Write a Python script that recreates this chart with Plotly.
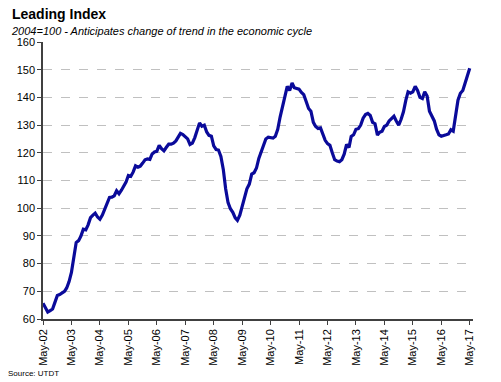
import pandas as pd
import plotly.graph_objects as go

start_month = "2002-05-01"
values = [
    65.7, 64.0, 62.5, 63.0, 63.6, 66.0, 68.5, 68.8, 69.3, 70.0, 71.2, 73.5,
    76.8, 82.0, 87.6, 88.3, 90.0, 92.4, 92.2, 94.0, 96.6, 97.5, 98.2, 96.8,
    96.0, 97.5, 99.5, 101.5, 103.9, 104.0, 104.5, 106.3, 105.2, 106.5, 107.8, 109.4,
    111.8, 111.5, 113.0, 115.3, 114.8, 115.2, 116.3, 117.5, 117.8, 117.6, 119.5, 120.3,
    120.5, 122.7, 121.5, 120.7, 122.0, 123.1, 123.1, 123.5, 124.3, 125.5, 127.0, 126.6,
    125.8, 125.0, 123.0, 123.5, 125.5, 128.0, 130.8, 129.6, 130.0, 127.5, 126.3, 126.0,
    122.5, 121.2, 121.0, 118.7, 114.0, 107.0, 102.0, 99.8, 98.5, 96.5, 95.6, 97.5,
    101.0, 103.5, 107.0, 108.7, 112.3, 112.8, 114.5, 118.0, 120.5, 122.5, 125.0, 125.6,
    125.5, 125.3, 126.0, 128.5, 133.0, 137.0, 141.0, 144.0, 142.5, 145.2, 143.5, 143.3,
    143.0, 141.8, 141.0, 138.5, 136.0, 135.0, 131.0, 129.5, 128.8, 129.0, 127.0, 124.5,
    123.3, 122.7, 120.0, 117.5, 117.0, 116.8, 117.5, 119.5, 123.0, 121.9, 125.9, 126.5,
    128.5, 128.7, 130.0, 132.5, 133.8, 134.2, 133.5, 131.0, 130.5, 126.4, 127.4, 127.8,
    129.5, 130.0, 131.5, 132.3, 133.2, 131.5, 130.0, 132.0, 134.8, 139.0, 142.0, 141.5,
    142.0, 144.0, 142.5, 140.0, 139.6, 142.0, 140.5, 135.0, 133.0, 131.5, 128.5, 126.5,
    126.0, 126.4, 126.5, 126.8, 128.3, 127.8, 133.5, 139.0, 141.5, 142.5, 145.0, 147.5,
    150.5,
]
dates = pd.date_range(start_month, periods=len(values), freq="MS")
tick_dates = pd.date_range("2002-05-01", "2017-05-01", freq="12MS")
tick_labels = [d.strftime("%b-%y") for d in tick_dates]
y_ticks = [60, 70, 80, 90, 100, 110, 120, 130, 140, 150, 160]

title = "Leading Index"
subtitle = "2004=100 - Anticipates change of trend in the economic cycle"
source = "Source: UTDT"

fig = go.Figure()
fig.add_trace(go.Scatter(
    x=dates, y=values, mode="lines",
    line=dict(color="#0a0a9a", width=3.2, shape="linear"),
    hoverinfo="skip", showlegend=False,
))

FONT = "Liberation Sans, Arial, sans-serif"
fig.update_layout(
    width=501, height=382,
    margin=dict(l=43, r=28, t=42, b=63),
    paper_bgcolor="white", plot_bgcolor="white",
    font=dict(family=FONT, size=11, color="black"),
    xaxis=dict(
        type="date",
        range=["2002-05-01", "2017-06-12"],
        tickvals=tick_dates, ticktext=tick_labels,
        tickangle=-90, ticks="outside", ticklen=4, tickcolor="#404040",
        showline=True, linecolor="#404040", linewidth=1.5,
        showgrid=False, zeroline=False,
        tickfont=dict(family=FONT, size=11, color="black"),
    ),
    yaxis=dict(
        range=[60, 160], tickvals=y_ticks,
        ticks="outside", ticklen=4, tickcolor="#404040",
        showline=True, linecolor="#404040", linewidth=1.5,
        showgrid=True, gridcolor="#c0c0c0", griddash="dash", gridwidth=1,
        zeroline=False,
        tickfont=dict(family=FONT, size=11, color="black"),
    ),
    annotations=[
        dict(text="<b>" + title + "</b>", xref="paper", yref="paper",
             x=-33 / 430, y=(319 - 14) / 277, xanchor="left", yanchor="middle",
             showarrow=False, font=dict(family=FONT, size=14, color="black")),
        dict(text="<i>" + subtitle + "</i>", xref="paper", yref="paper",
             x=-34 / 430, y=(319 - 31) / 277, xanchor="left", yanchor="middle",
             showarrow=False, font=dict(family=FONT, size=11, color="black")),
        dict(text=source, xref="paper", yref="paper",
             x=-37 / 430, y=(319 - 373) / 277, xanchor="left", yanchor="middle",
             showarrow=False, font=dict(family=FONT, size=8, color="black")),
    ],
)

fig.write_html("out.html", config={"displayModeBar": False})
with open("out.html", encoding="utf-8") as f:
    html = f.read()
html = html.replace("<body>", '<body style="margin:0;padding:0;overflow:hidden">', 1)
with open("out.html", "w", encoding="utf-8") as f:
    f.write(html)
